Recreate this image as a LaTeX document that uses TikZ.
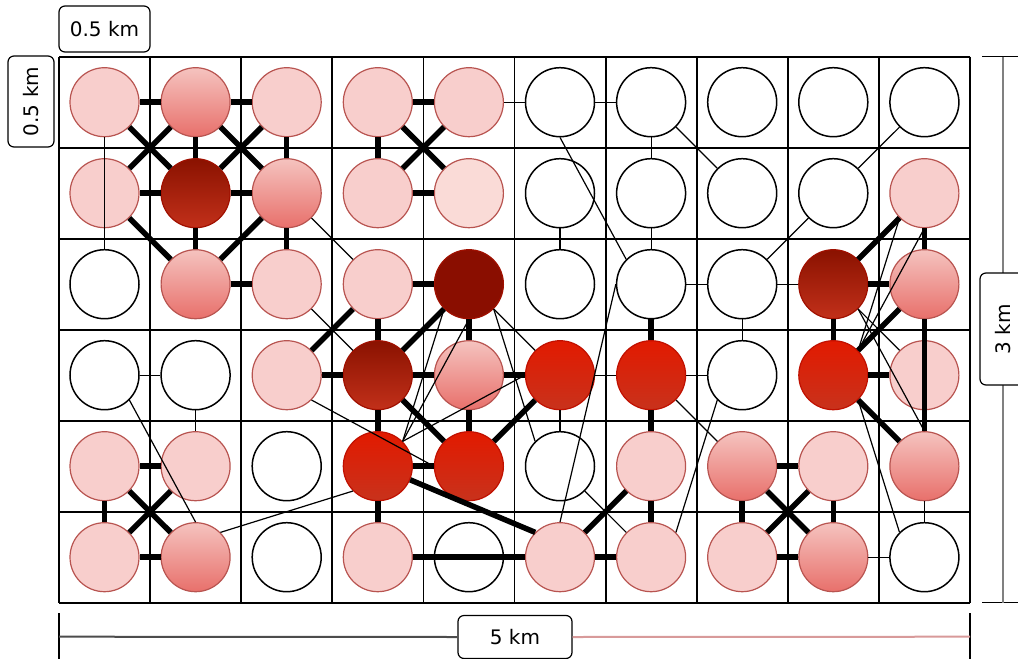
\documentclass[tikz,border=0pt]{standalone}
\usepackage{fontspec}
\setmainfont{DejaVu Sans}
\begin{document}
\begin{tikzpicture}[x=1pt,y=-1pt,
  base/.style={circle,minimum size=69pt,inner sep=0pt,line width=1.2pt},
  wn/.style={base,draw=black,fill=white,line width=1.5pt},
  lp/.style={base,draw=pinkline,fill=lpink},
  lq/.style={base,draw=pinkline,fill=lpink2},
  gp/.style={base,draw=pinkline,top color=gptop,bottom color=gpbot},
  dg/.style={base,draw=dgline,top color=dgtop,bottom color=dgbot},
  dd/.style={base,draw=dgline,fill=ddred},
  br/.style={base,draw=brline,top color=brtop,bottom color=brbot},
  thk/.style={line width=5.5pt},
  thn/.style={line width=1.2pt},
  lbl/.style={draw=black,line width=1.2pt,rounded corners=6pt,fill=white,inner sep=0pt,font=\fontsize{20}{24}\selectfont}
]
\definecolor{lpink}{HTML}{F8CECC}
\definecolor{lpink2}{HTML}{FADBD7}
\definecolor{pinkline}{HTML}{B85450}
\definecolor{gptop}{HTML}{F5C3BF}
\definecolor{gpbot}{HTML}{E8706B}
\definecolor{dgtop}{HTML}{8A1200}
\definecolor{dgbot}{HTML}{C2301A}
\definecolor{dgline}{HTML}{A01000}
\definecolor{ddred}{HTML}{8A0E00}
\definecolor{brtop}{HTML}{E21A00}
\definecolor{brbot}{HTML}{C8321C}
\definecolor{brline}{HTML}{C01000}
\definecolor{dimred}{HTML}{D89A9A}
\useasboundingbox (0,0) rectangle (1018,659);
% grid
\foreach \i in {0,...,10} \draw[line width=1.8pt] ({59+91.1*\i},56.7) -- ({59+91.1*\i},602.7);
\foreach \j in {0,...,6} \draw[line width=1.8pt] (59,{56.7+91*\j}) -- (970,{56.7+91*\j});
% nodes
\foreach [count=\c from 0] \s in {lp,gp,lp,lp,lp,wn,wn,wn,wn,wn}
  \node[\s] (r0c\c) at ({104.5+91.1*\c},{102.2+91*0}) {};
\foreach [count=\c from 0] \s in {lp,dg,gp,lp,lq,wn,wn,wn,wn,lp}
  \node[\s] (r1c\c) at ({104.5+91.1*\c},{102.2+91*1}) {};
\foreach [count=\c from 0] \s in {wn,gp,lp,lp,dd,wn,wn,wn,dg,gp}
  \node[\s] (r2c\c) at ({104.5+91.1*\c},{102.2+91*2}) {};
\foreach [count=\c from 0] \s in {wn,wn,lp,dg,gp,br,br,wn,br,lp}
  \node[\s] (r3c\c) at ({104.5+91.1*\c},{102.2+91*3}) {};
\foreach [count=\c from 0] \s in {lp,lp,wn,br,br,wn,lp,gp,lp,gp}
  \node[\s] (r4c\c) at ({104.5+91.1*\c},{102.2+91*4}) {};
\foreach [count=\c from 0] \s in {lp,gp,wn,lp,wn,lp,lp,lp,gp,wn}
  \node[\s] (r5c\c) at ({104.5+91.1*\c},{102.2+91*5}) {};
% thick edges
\foreach \a/\b in {r0c0/r0c1,r0c1/r0c2,r0c0/r1c1,r0c1/r1c0,r0c1/r1c1,r0c1/r1c2,r0c2/r1c1,r0c2/r1c2,
  r1c0/r1c1,r1c1/r1c2,r1c0/r2c1,r1c1/r2c1,r1c2/r2c1,r1c2/r2c2,r2c1/r2c2,
  r0c3/r0c4,r0c3/r1c3,r0c3/r1c4,r0c4/r1c3,r1c3/r1c4,
  r2c3/r2c4,r2c3/r3c3,r2c4/r3c4,r2c4/r3c3,r3c2/r2c3,r3c2/r3c3,r3c3/r3c4,r3c4/r3c5,
  r3c3/r4c3,r3c4/r4c4,r3c3/r4c4,r4c4/r3c5,r4c3/r4c4,r4c3/r5c3,r5c3/r5c5,r5c5/r5c6,r5c5/r4c6,
  r2c6/r3c6,r3c6/r4c6,r4c6/r5c6,
  r1c9/r2c8,r1c9/r2c9,r2c8/r2c9,r2c8/r3c8,r3c8/r2c9,r3c8/r3c9,r3c8/r4c9,r2c9/r4c9,
  r4c7/r4c8,r4c7/r5c7,r4c7/r5c8,r4c8/r5c7,r4c8/r5c8,r5c7/r5c8,
  r4c0/r4c1,r4c0/r5c0,r4c0/r5c1,r4c1/r5c0,r5c0/r5c1}
  \draw[thk] (\a) -- (\b);
\draw[thk] (r4c3) -- (r5c5.north west);
% thin edges
\foreach \a/\b in {r0c4/r0c5,r0c5/r0c6,r0c6/r1c6,r1c5/r2c5,r1c6/r2c6,r2c6/r2c7,r2c7/r2c8,r2c7/r3c7,
  r3c5/r3c6,r3c6/r3c7,r3c5/r4c5,r3c0/r3c1,r3c1/r4c1,r5c8/r5c9,r4c9/r5c9}
  \draw[thn] (\a) -- (\b);
\foreach \a/\b in {r0c0.south/r2c0.north,
  r1c2.south east/r2c3.north west,
  r2c2.south east/r3c3.north west,
  r0c5.south/r2c6.north west,
  r0c6.south east/r1c7.north west,
  r0c9.south west/r1c8.north east,
  r1c8.south west/r2c7.north east,
  r2c6.west/r5c5.north,
  r3c6.south east/r4c7.north west,
  r3c7.south west/r5c6.north east,
  r4c5.south east/r5c6.north west,
  r2c4.south east/r3c5.north west,
  r2c4.south east/r4c5.north west,
  r3c2.south east/r4c4.west,
  r5c1.north east/r4c3.south west,
  r3c0.south east/r5c1.north,
  r2c8.south east/r3c9.north west,
  r3c8.south east/r5c9.north west,
  r1c9.south west/r3c8.north east,
  r1c9.south/r3c8.north east,
  r2c4.south west/r4c3.north east,
  r2c4.south/r4c3.north east,
  r4c3.north east/r3c5.west,
  r2c8.south east/r4c9.north}
  \draw[thn] (\a) -- (\b);
% dimension: right
\draw[line width=1.2pt] (982,56.7) -- (1018,56.7);
\draw[line width=1.2pt] (982,602.7) -- (1018,602.7);
\draw[line width=2pt,gray] (1003,56.7) -- (1003,602.7);
\node[lbl,minimum width=112pt,minimum height=46pt,rotate=90] (dimr) at (1003,329) {3 km};
% dimension: bottom
\draw[line width=1.2pt] (59,613) -- (59,659);
\draw[line width=1.2pt] (970,613) -- (970,659);
\node[lbl,minimum width=114pt,minimum height=43pt] (dimb) at (515,637) {5 km};
\coordinate (bl) at (59,636.7);
\coordinate (brr) at (970,636.7);
\draw[line width=2pt,black!70] (bl) -- (dimb.west);
\draw[line width=2pt,dimred] (dimb.east) -- (brr);
% scale labels
\node[lbl,minimum width=91pt,minimum height=46pt] (sx) at (104.5,29) {0.5 km};
\node[lbl,minimum width=91pt,minimum height=46pt,rotate=90] (sy) at (31,101.5) {0.5 km};
\end{tikzpicture}
\end{document}
